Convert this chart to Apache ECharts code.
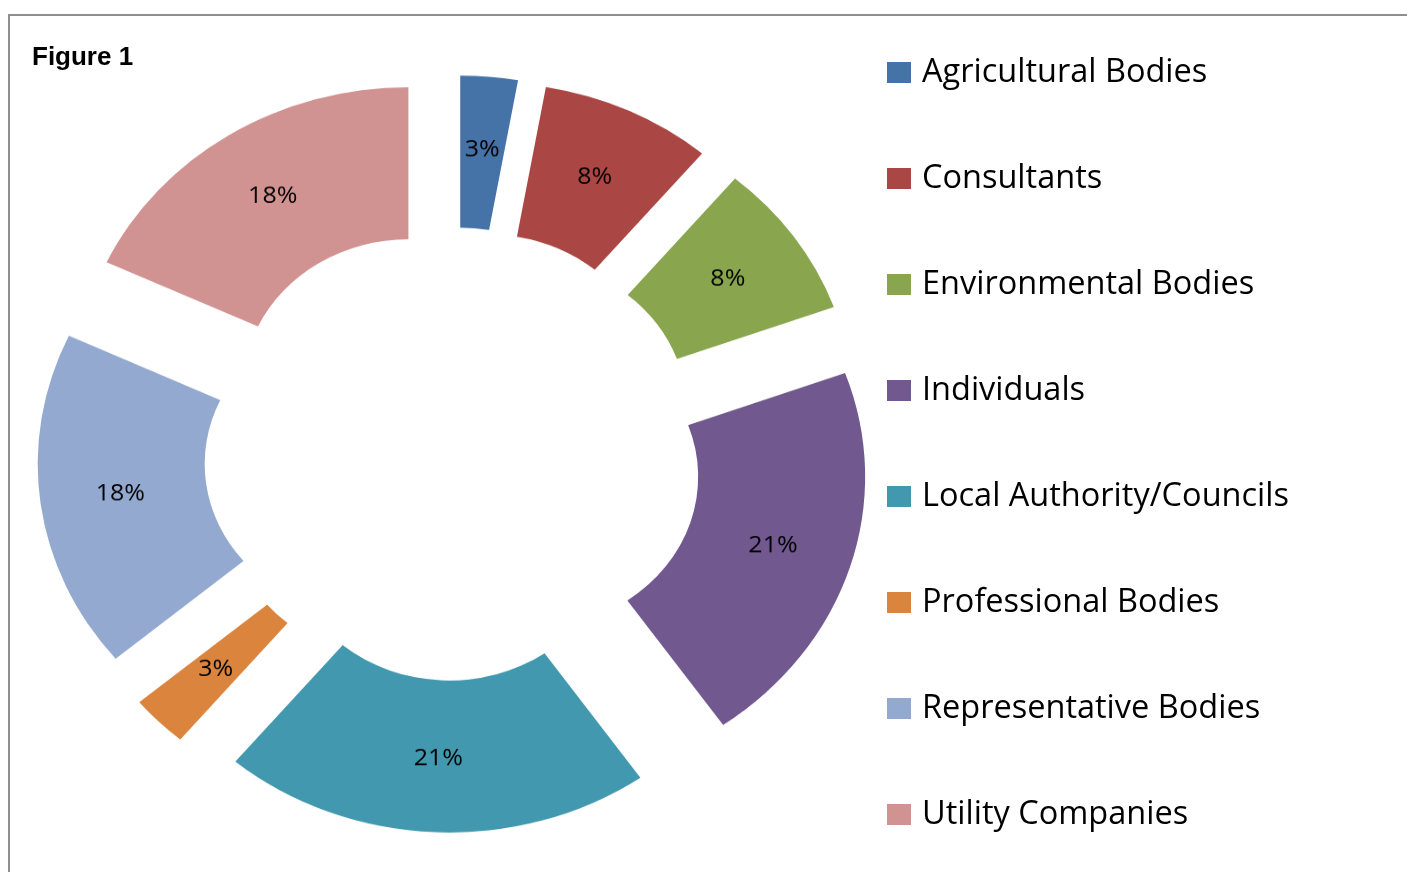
<!DOCTYPE html>
<html>
<head>
<meta charset="utf-8">
<script src="https://cdn.jsdelivr.net/npm/echarts@6/dist/echarts.min.js"></script>
<style>
  html, body { margin: 0; padding: 0; background: #fff; }
  #base, #ring { position: absolute; left: 0; top: 0; width: 1407px; height: 872px; }
  /* the source picture is squashed a little vertically, so the ring is too */
  #ring { transform: scaleY(0.91); transform-origin: 453px 454px; }
</style>
</head>
<body>
<div id="base"></div>
<div id="ring"></div>
<script>
const categories = [
  'Agricultural Bodies',
  'Consultants',
  'Environmental Bodies',
  'Individuals',
  'Local Authority/Councils',
  'Professional Bodies',
  'Representative Bodies',
  'Utility Companies'
]
const counts = [2, 6, 6, 15, 15, 2, 13, 13]
const colors = ['#4572A7', '#AA4643', '#89A54E', '#71588F', '#4198AF', '#DB843D', '#93A9CF', '#D19392']

const items = categories.map((name, i) => ({
  name,
  value: counts[i],
  selected: true,
  itemStyle: { color: colors[i] },
  select: { itemStyle: { color: colors[i] } }
}))

// title, frame and legend (not squashed)
const base = echarts.init(document.getElementById('base'))
base.setOption({
  animation: false,
  title: {
    text: 'Figure 1',
    left: 32,
    top: 45,
    padding: 0,
    textStyle: { fontFamily: 'Liberation Sans, Arial', fontWeight: 'bold', fontSize: 26, color: '#000' }
  },
  graphic: [
    {
      type: 'polyline',
      shape: { points: [[9, 872], [9, 15], [1407, 15]] },
      style: { stroke: '#8f8f8f', lineWidth: 2, fill: null }
    }
  ],
  legend: {
    orient: 'vertical',
    left: 887,
    top: 56,
    padding: 0,
    icon: 'rect',
    itemWidth: 24,
    itemHeight: 21,
    itemGap: 73,
    selectedMode: false,
    data: categories,
    textStyle: { fontFamily: 'Open Sans', fontSize: 32.5, lineHeight: 32, color: '#000', padding: [0, 0, 0, 6] }
  },
  series: [
    {
      type: 'pie',
      radius: [0, 0],
      center: [453, 454],
      silent: true,
      label: { show: false },
      data: items.map((d) => ({ name: d.name, value: d.value, itemStyle: d.itemStyle }))
    }
  ]
})

// exploded doughnut
const ring = echarts.init(document.getElementById('ring'))
ring.setOption({
  animation: false,
  series: [
    {
      type: 'pie',
      center: [453, 454],
      radius: [166, 333],
      startAngle: 90,
      clockwise: true,
      selectedMode: 'multiple',
      selectedOffset: 83,
      percentPrecision: 0,
      avoidLabelOverlap: false,
      emphasis: { disabled: true },
      label: {
        show: true,
        position: 'inside',
        formatter: '{d}%',
        fontFamily: 'Open Sans',
        fontSize: 25,
        color: '#000'
      },
      labelLine: { show: false },
      data: items
    }
  ]
})
</script>
</body>
</html>
